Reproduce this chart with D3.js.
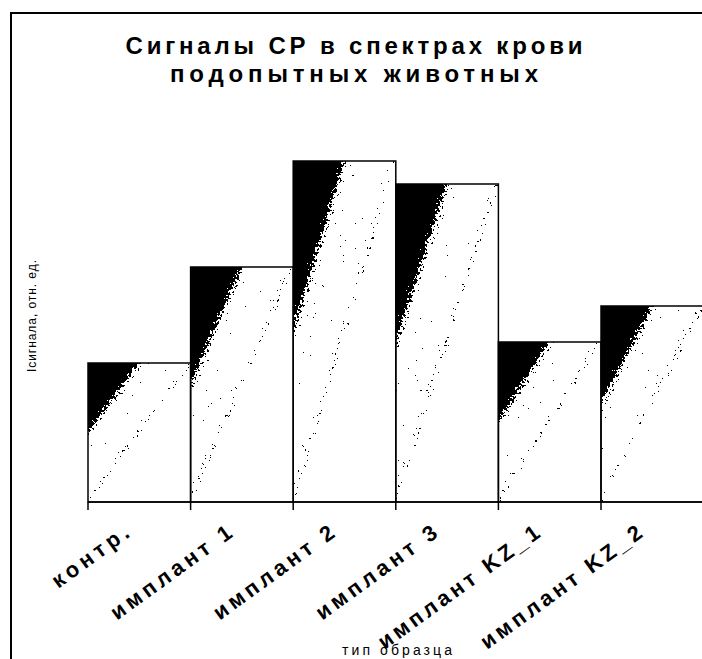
<!DOCTYPE html>
<html><head><meta charset="utf-8">
<script src="https://cdn.jsdelivr.net/npm/d3@7/dist/d3.min.js"></script>
<style>html,body{margin:0;padding:0;background:#fff;}svg{display:block;}</style>
</head><body>
<script>
const categories = ["контр.", "имплант 1", "имплант 2", "имплант 3", "имплант KZ_1", "имплант KZ_2"];
const values = [1.39, 2.35, 3.41, 3.18, 1.60, 1.96];
const labelLengths = [90, 144, 144, 144, 194, 194];
const titleLines = ["Сигналы СР в спектрах крови", "подопытных животных"];
const yTitle = "Iсигнала, отн. ед.";
const xTitle = "тип образца";

const W = 702, H = 659;
const svg = d3.select("body").append("svg").attr("width", W).attr("height", H);
svg.append("rect").attr("width", W).attr("height", H).attr("fill", "#fff");
const font = "'Liberation Sans', Arial, sans-serif";

const defs = svg.append("defs");
const grad = defs.append("linearGradient").attr("id", "g").attr("x1", 0).attr("y1", 0).attr("x2", 1).attr("y2", 1);
[[0,0],[0.205,0],[0.222,0.22],[0.245,0.45],[0.265,0.66],[0.29,0.8],[0.46,0.84],[0.485,0.7],[0.505,0.7],[0.52,1],[1,1]]
  .forEach(([o,g]) => { const c = Math.round(g*255); grad.append("stop").attr("offset", o).attr("stop-color", `rgb(${c},${c},${c})`); });
const f = defs.append("filter").attr("id", "dither").attr("x", 0).attr("y", 0).attr("width", 1).attr("height", 1)
  .attr("color-interpolation-filters", "sRGB");
f.append("feTurbulence").attr("type", "fractalNoise").attr("baseFrequency", 0.4).attr("numOctaves", 3).attr("seed", 7).attr("result", "noise");
f.append("feColorMatrix").attr("in", "noise").attr("type", "matrix")
  .attr("values", "1 0 0 0 0  1 0 0 0 0  1 0 0 0 0  0 0 0 0 1").attr("result", "n");
f.append("feComposite").attr("in", "SourceGraphic").attr("in2", "n").attr("operator", "arithmetic")
  .attr("k1", 0).attr("k2", 1).attr("k3", 1).attr("k4", -0.5).attr("result", "sum");
const ct = f.append("feComponentTransfer").attr("in", "sum");
["feFuncR","feFuncG","feFuncB"].forEach(t => ct.append(t).attr("type", "discrete").attr("tableValues", "0 1"));

// outer frame
svg.append("rect").attr("x", 11).attr("y", 13).attr("width", 800).attr("height", 800)
  .attr("fill", "none").attr("stroke", "#000").attr("stroke-width", 2);

const axisY = 502;
const x = d3.scaleBand().domain(categories).range([88, 88 + 6 * 102.6]).padding(0);
const y = d3.scaleLinear().domain([0, 4]).range([axisY, 102]);

const bars = svg.append("g");
bars.selectAll("rect.fill").data(categories).join("rect")
  .attr("class", "fill")
  .attr("x", d => x(d)).attr("y", (d, i) => y(values[i]))
  .attr("width", x.bandwidth()).attr("height", (d, i) => y(0) - y(values[i]))
  .attr("fill", "url(#g)").attr("filter", "url(#dither)");
bars.selectAll("rect.edge").data(categories).join("rect")
  .attr("class", "edge")
  .attr("x", d => x(d)).attr("y", (d, i) => y(values[i]))
  .attr("width", x.bandwidth()).attr("height", (d, i) => y(0) - y(values[i]))
  .attr("fill", "none").attr("stroke", "#000").attr("stroke-width", 1.5);

// axis
svg.append("line").attr("x1", x.range()[0]).attr("x2", W).attr("y1", axisY).attr("y2", axisY)
  .attr("stroke", "#000").attr("stroke-width", 1.5);
svg.selectAll("line.tick").data(categories).join("line").attr("class", "tick")
  .attr("x1", d => x(d)).attr("x2", d => x(d)).attr("y1", axisY).attr("y2", axisY + 8)
  .attr("stroke", "#000").attr("stroke-width", 1.5);
svg.selectAll("text.xl").data(categories).join("text").attr("class", "xl")
  .attr("transform", d => `translate(${x(d) + 43},${axisY + 34}) rotate(-36)`)
  .attr("text-anchor", "end").attr("font-family", font).attr("font-weight", "bold").attr("font-size", 22)
  .attr("textLength", (d, i) => labelLengths[i]).attr("lengthAdjust", "spacing")
  .text(d => d);

// titles
svg.selectAll("text.title").data(titleLines).join("text").attr("class", "title")
  .attr("x", 354).attr("y", (d, i) => 54 + i * 28)
  .attr("text-anchor", "middle").attr("font-family", font).attr("font-weight", "bold").attr("font-size", 24)
  .attr("textLength", (d, i) => i === 0 ? 457 : 368).attr("lengthAdjust", "spacing")
  .text(d => d);

svg.append("text").attr("transform", "translate(36,316) rotate(-90)")
  .attr("text-anchor", "middle").attr("font-family", font).attr("font-size", 12)
  .attr("textLength", 112).attr("lengthAdjust", "spacing").text(yTitle);
svg.append("text").attr("x", 397).attr("y", 655)
  .attr("text-anchor", "middle").attr("font-family", font).attr("font-size", 14)
  .attr("textLength", 110).attr("lengthAdjust", "spacing").text(xTitle);
</script>
</body></html>
